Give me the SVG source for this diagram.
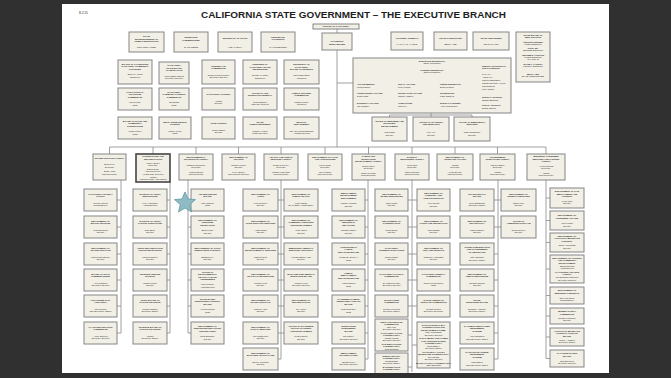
<svg xmlns="http://www.w3.org/2000/svg" width="671" height="378" viewBox="0 0 671 378">
<style>
.bg{fill:#303030}
.pg{fill:#ffffff}
.b{fill:#f2f0e6;stroke:#858585;stroke-width:1}
.k{fill:#f2f0e6;stroke:#454545;stroke-width:1.6}
.c{stroke:#959595;stroke-width:0.9;fill:none}
text{font-family:"Liberation Sans",Arial,sans-serif;fill:#1e1e1e}
.t{font-size:2.2px;text-anchor:middle}
.l{font-size:2.2px;text-anchor:start}
.h{font-weight:bold}
.star{fill:#8fbcc4;stroke:#5e98a3;stroke-width:0.8}
</style>
<rect class="bg" x="0" y="0" width="671" height="378"/>
<rect class="pg" x="62" y="4" width="547" height="369"/>
<text x="79" y="14" style="font-size:3.2px">8.2.15</text>
<text x="353.5" y="17.5" class="h" style="font-size:9px;text-anchor:middle" textLength="305" lengthAdjust="spacingAndGlyphs">CALIFORNIA STATE GOVERNMENT – THE EXECUTIVE BRANCH</text>

<g id="connectors" class="c">
<path d="M337 29V33M337 50V147M337 83H353M431 113V115M389.5 115H472M389.5 115V117M431 115V117M472 115V117"/>
<path d="M109.5 147H546M109.5 147V154M153 147V154M196 147V154M238.5 147V154M281 147V154M325 147V154M368.5 147V154M412 147V154M455 147V154M497.5 147V154M546 147V154"/>
<path d="M121 180V333M170 182V333M188 180V333M281 180V359M368 180V359M412 180V372M498 180V359M546 180V358.5"/>
<path d="M117 200H121M117 227H121M117 254H121M117 280H121M117 306H121M117 333H121"/>
<path d="M167 200H170M167 227H170M167 254H170M167 280H170M167 306H170M167 333H170"/>
<path d="M188 200H191M188 227H191M188 254H191M188 280H191M188 306H191M188 333H191"/>
<path d="M278 200H284M278 227H284M278 254H284M278 280H284M278 306H284M278 333H284M278 359H281"/>
<path d="M365 200H368M365 227H368M365 254H368M365 280H368M365 306H368M365 333H368M365 359H368"/>
<path d="M408 200H417M408 227H417M408 254H417M408 280H417M408 306H417M408 335H412M412 345H417M408 367H412"/>
<path d="M494 200H501M494 227H501M494 254H498M494 280H498M494 306H498M494 333H498M494 359H498"/>
<path d="M546 198H550M546 220.5H550M546 242.5H550M546 269H550M546 295.5H550M546 316H550M546 337H550M546 358.5H550"/>
</g>

<g id="people"><rect class="b" x="313" y="24" width="46" height="5"/><text class="t"><tspan class="h" x="336" y="27.3">PEOPLE OF CALIFORNIA</tspan></text></g>
<g id="supt"><rect class="b" x="129" y="32" width="35" height="20"/><text class="t"><tspan class="h" x="146.5" y="37">STATE</tspan><tspan class="h" x="146.5" y="39.6">SUPERINTENDENT OF</tspan><tspan class="h" x="146.5" y="42.2">PUBLIC INSTRUCTION</tspan><tspan x="146.5" y="48">TOM TORLAKSON</tspan></text></g>
<g id="ins"><rect class="b" x="174" y="32" width="34" height="20"/><text class="t"><tspan class="h" x="191" y="38">INSURANCE</tspan><tspan class="h" x="191" y="40.6">COMMISSIONER</tspan><tspan x="191" y="48">DAVE JONES</tspan></text></g>
<g id="sos"><rect class="b" x="218" y="32" width="34" height="20"/><text class="t"><tspan class="h" x="235" y="38.5">SECRETARY OF STATE</tspan><tspan x="235" y="48">ALEX PADILLA</tspan></text></g>
<g id="ltgov"><rect class="b" x="261" y="32" width="34" height="20"/><text class="t"><tspan class="h" x="278" y="37.5">LIEUTENANT</tspan><tspan class="h" x="278" y="40.1">GOVERNOR</tspan><tspan x="278" y="48">GAVIN NEWSOM</tspan></text></g>
<g id="gov"><rect class="b" x="322" y="33" width="30" height="17"/><text class="t"><tspan class="h" x="337" y="41.5">GOVERNOR</tspan><tspan class="h" x="337" y="44.5">JERRY BROWN</tspan></text></g>
<g id="ag"><rect class="b" x="391" y="32" width="32" height="18"/><text class="t"><tspan class="h" x="407" y="39">ATTORNEY GENERAL</tspan><tspan x="407" y="45">KAMALA D. HARRIS</tspan></text></g>
<g id="ctrl"><rect class="b" x="434" y="32" width="33" height="18"/><text class="t"><tspan class="h" x="450.5" y="39">STATE CONTROLLER</tspan><tspan x="450.5" y="45">BETTY YEE</tspan></text></g>
<g id="treas"><rect class="b" x="473" y="32" width="36" height="18"/><text class="t"><tspan class="h" x="491" y="39">STATE TREASURER</tspan><tspan x="491" y="45">JOHN CHIANG</tspan></text></g>
<g id="boe"><rect class="b" x="516" y="32" width="34" height="50"/><text class="t"><tspan class="h" x="533" y="35.5">STATE BOARD OF</tspan><tspan class="h" x="533" y="38">EQUALIZATION</tspan><tspan class="h" x="533" y="42.5">GEORGE RUNNER</tspan><tspan x="533" y="44.8">FIRST DISTRICT</tspan><tspan class="h" x="533" y="49">FIONA MA</tspan><tspan x="533" y="51.3">SECOND DISTRICT</tspan><tspan class="h" x="533" y="55.5">JEROME E. HORTON</tspan><tspan x="533" y="57.8">THIRD DISTRICT</tspan><tspan x="533" y="60.1">CHAIRMAN</tspan><tspan class="h" x="533" y="64.5">DIANE L. HARKEY</tspan><tspan x="533" y="66.8">FOURTH DISTRICT</tspan><tspan class="h" x="533" y="74.5">BETTY YEE</tspan><tspan x="533" y="76.8">STATE CONTROLLER</tspan></text></g>

<g id="exec"><rect class="b" x="353" y="58" width="158" height="55"/>
<text class="t"><tspan class="h" x="432" y="61.5">EXECUTIVE SECRETARY</tspan><tspan x="432" y="64">Nancy McFadden</tspan><tspan class="h" x="432" y="70.5">CABINET SECRETARY</tspan><tspan x="432" y="73">Dana Williamson</tspan></text>
<text class="l"><tspan class="h" x="357" y="85">APPOINTMENTS</tspan><tspan x="357" y="87.5">Mona Pasquil</tspan><tspan class="h" x="357" y="94">CONSTITUENT AFFAIRS</tspan><tspan x="357" y="96.5">Robin Mast</tspan><tspan class="h" x="357" y="104">EXTERNAL AFFAIRS</tspan><tspan x="357" y="106.5">Jim Gallaher</tspan></text>
<text class="l"><tspan class="h" x="398" y="85">LEGAL AFFAIRS</tspan><tspan x="398" y="87.5">Peter Krause</tspan><tspan class="h" x="398" y="94">LEGISLATIVE AFFAIRS</tspan><tspan x="398" y="96.5">Camille Wagner</tspan><tspan class="h" x="398" y="104">OPERATIONS</tspan><tspan x="398" y="106.5">John Lee</tspan></text>
<text class="l"><tspan class="h" x="440" y="85">PRESS SECRETARY</tspan><tspan x="440" y="87.5">Evan Westrup</tspan><tspan class="h" x="440" y="94">SCHEDULING</tspan><tspan x="440" y="96.5">Kathy Barbera</tspan><tspan class="h" x="440" y="104">SPECIAL COUNSEL</tspan><tspan x="440" y="106.5">Anne Gust Brown</tspan></text>
<text class="l"><tspan class="h" x="482" y="66.5">SENIOR ADVISORS TO</tspan><tspan class="h" x="482" y="69">THE GOVERNOR</tspan><tspan x="482" y="74.5">Ken Alex</tspan><tspan x="482" y="77.5">Agnes Lee</tspan><tspan x="482" y="80.5">Cliff Rechtschaffen</tspan><tspan x="482" y="83.5">Martha Guzman Aceves</tspan><tspan x="482" y="86.5">Gareth Elliott</tspan><tspan x="482" y="89.5">Lupe Garcia</tspan><tspan class="h" x="482" y="98">SPECIAL ADVISOR</tspan><tspan x="482" y="100.5">Nathan Barankin</tspan><tspan class="h" x="482" y="106">FISCAL ADVISOR</tspan><tspan x="482" y="108.5">Eraina Ortega</tspan></text>
</g>
<g id="obed"><rect class="b" x="372" y="117" width="35" height="24"/><text class="t"><tspan class="h" x="389.5" y="121.5">OFFICE OF BUSINESS AND</tspan><tspan class="h" x="389.5" y="124">ECONOMIC</tspan><tspan class="h" x="389.5" y="126.5">DEVELOPMENT</tspan><tspan x="389.5" y="133">Kish Rajan</tspan><tspan x="389.5" y="135.5">Director</tspan></text></g>
<g id="opr"><rect class="b" x="413" y="117" width="36" height="24"/><text class="t"><tspan class="h" x="431" y="122.5">OFFICE OF PLANNING</tspan><tspan class="h" x="431" y="125">AND RESEARCH</tspan><tspan x="431" y="133">Ken Alex</tspan><tspan x="431" y="135.5">Director</tspan></text></g>
<g id="oes"><rect class="b" x="454" y="117" width="36" height="24"/><text class="t"><tspan class="h" x="472" y="122.5">OFFICE OF EMERGENCY</tspan><tspan class="h" x="472" y="125">SERVICES</tspan><tspan x="472" y="133">Mark Ghilarducci</tspan><tspan x="472" y="135.5">Director</tspan></text></g>

<g id="a2"><rect class="b" x="118" y="60" width="34" height="24"/><text class="t"><tspan class="h" x="135" y="64.5">BOARD OF GOVERNORS</tspan><tspan class="h" x="135" y="67">CALIFORNIA COMMUNITY</tspan><tspan class="h" x="135" y="69.5">COLLEGES</tspan><tspan x="135" y="75">Brice W. Harris</tspan><tspan x="135" y="77.5">Chancellor</tspan></text></g>
<g id="b2"><rect class="b" x="159" y="62" width="30" height="22"/><text class="t"><tspan class="h" x="174" y="66">CALIFORNIA</tspan><tspan class="h" x="174" y="68.5">STATE BOARD</tspan><tspan class="h" x="174" y="71">OF EDUCATION</tspan><tspan x="174" y="76.5">Karen Stapf Walters</tspan><tspan x="174" y="79">Executive Director</tspan></text></g>
<g id="a3"><rect class="b" x="118" y="88" width="34" height="22"/><text class="t"><tspan class="h" x="135" y="92.5">FAIR POLITICAL</tspan><tspan class="h" x="135" y="95">PRACTICES</tspan><tspan class="h" x="135" y="97.5">COMMISSION</tspan><tspan x="135" y="103">Jodi Remke</tspan><tspan x="135" y="105.5">Chair</tspan></text></g>
<g id="b3"><rect class="b" x="159" y="88" width="30" height="22"/><text class="t"><tspan class="h" x="174" y="92.5">CALIFORNIA</tspan><tspan class="h" x="174" y="95">GAMBLING CONTROL</tspan><tspan class="h" x="174" y="97.5">COMMISSION</tspan><tspan x="174" y="103">Jim Evans</tspan><tspan x="174" y="105.5">Chair</tspan></text></g>
<g id="a4"><rect class="b" x="118" y="117" width="34" height="22"/><text class="t"><tspan class="h" x="135" y="121.5">BOARD OF STATE AND</tspan><tspan class="h" x="135" y="124">COMMUNITY</tspan><tspan class="h" x="135" y="126.5">CORRECTIONS</tspan><tspan x="135" y="132">Linda Penner</tspan><tspan x="135" y="134.5">Chair</tspan></text></g>
<g id="b4"><rect class="b" x="159" y="117" width="32" height="22"/><text class="t"><tspan class="h" x="175" y="122.5">DELTA STEWARDSHIP</tspan><tspan class="h" x="175" y="125">COUNCIL</tspan><tspan x="175" y="131.5">Randy Fiorini</tspan><tspan x="175" y="134">Chair</tspan></text></g>
<g id="c2"><rect class="b" x="202" y="60" width="33" height="24"/><text class="t"><tspan class="h" x="218.5" y="66.5">STUDENT AID</tspan><tspan class="h" x="218.5" y="69">COMMISSION</tspan><tspan x="218.5" y="75.5">Diana Fuentes-Michel</tspan><tspan x="218.5" y="78">Executive Director</tspan></text></g>
<g id="d2"><rect class="b" x="243" y="60" width="34" height="24"/><text class="t"><tspan class="h" x="260" y="65">TRUSTEES OF</tspan><tspan class="h" x="260" y="67.5">CALIFORNIA STATE</tspan><tspan class="h" x="260" y="70">UNIVERSITIES</tspan><tspan x="260" y="76">Timothy P. White</tspan><tspan x="260" y="78.5">Chancellor</tspan></text></g>
<g id="e2"><rect class="b" x="284" y="60" width="35" height="24"/><text class="t"><tspan class="h" x="301.5" y="65">UNIVERSITY OF</tspan><tspan class="h" x="301.5" y="67.5">CALIFORNIA</tspan><tspan class="h" x="301.5" y="70">BOARD OF REGENTS</tspan><tspan x="301.5" y="76">Janet Napolitano</tspan><tspan x="301.5" y="78.5">President</tspan></text></g>
<g id="c3"><rect class="b" x="202" y="88" width="33" height="22"/><text class="t"><tspan class="h" x="218.5" y="95">CALIFORNIA LOTTERY</tspan><tspan x="218.5" y="101.5">Vacant</tspan><tspan x="218.5" y="104">Director</tspan></text></g>
<g id="d3"><rect class="b" x="243" y="88" width="34" height="22"/><text class="t"><tspan class="h" x="260" y="93.5">OFFICE OF THE</tspan><tspan class="h" x="260" y="96">INSPECTOR GENERAL</tspan><tspan x="260" y="102.5">Robert Barton</tspan><tspan x="260" y="105">Inspector General</tspan></text></g>
<g id="e3"><rect class="b" x="284" y="88" width="35" height="22"/><text class="t"><tspan class="h" x="301.5" y="93.5">PUBLIC UTILITIES</tspan><tspan class="h" x="301.5" y="96">COMMISSION</tspan><tspan x="301.5" y="102.5">Michael Picker</tspan><tspan x="301.5" y="105">President</tspan></text></g>
<g id="c4"><rect class="b" x="202" y="117" width="33" height="22"/><text class="t"><tspan class="h" x="218.5" y="124">ARTS COUNCIL</tspan><tspan x="218.5" y="130.5">Craig Watson</tspan><tspan x="218.5" y="133">Director</tspan></text></g>
<g id="d4"><rect class="b" x="243" y="117" width="34" height="22"/><text class="t"><tspan class="h" x="260" y="122.5">STATE</tspan><tspan class="h" x="260" y="125">PUBLIC DEFENDER</tspan><tspan x="260" y="131.5">Michael Hersek</tspan><tspan x="260" y="134">Public Defender</tspan></text></g>
<g id="e4"><rect class="b" x="284" y="117" width="35" height="22"/><text class="t"><tspan class="h" x="301.5" y="122.5">MILITARY</tspan><tspan class="h" x="301.5" y="125">DEPARTMENT</tspan><tspan x="301.5" y="131.5">Maj. Gen. David Baldwin</tspan><tspan x="301.5" y="134">Adjutant General</tspan></text></g>

<g id="ag-trans"><rect class="b" x="93" y="154" width="33" height="26"/><text class="t"><tspan class="h" x="109.5" y="158.5">TRANSPORTATION AGENCY</tspan><tspan x="109.5" y="165">Brian Kelly</tspan><tspan x="109.5" y="167.5">Secretary</tspan><tspan x="109.5" y="172">Brian Annis</tspan><tspan x="109.5" y="174.5">Undersecretary</tspan></text></g>
<g id="ag-cdcr"><rect class="k" x="136" y="154" width="34" height="28"/><text class="t"><tspan class="h" x="153" y="157.3">CORRECTIONS AND</tspan><tspan class="h" x="153" y="159.8">REHABILITATION</tspan><tspan x="153" y="163.5">Jeffrey Beard</tspan><tspan x="153" y="166">Secretary</tspan><tspan x="153" y="169.5">Diana Toche</tspan><tspan x="153" y="172">Undersecretary</tspan><tspan x="153" y="174.5">Health Care Services</tspan><tspan x="153" y="177.5">Vacant</tspan><tspan x="153" y="180">Undersecretary, Operations</tspan></text></g>
<g id="ag-epa"><rect class="b" x="179" y="154" width="34" height="26"/><text class="t"><tspan class="h" x="196" y="157.5">ENVIRONMENTAL</tspan><tspan class="h" x="196" y="160">PROTECTION AGENCY</tspan><tspan x="196" y="165.5">Matthew Rodriquez</tspan><tspan x="196" y="168">Secretary</tspan><tspan x="196" y="172.5">Gordon Burns</tspan><tspan x="196" y="175">Undersecretary</tspan></text></g>
<g id="ag-fin"><rect class="b" x="222" y="154" width="33" height="26"/><text class="t"><tspan class="h" x="238.5" y="157.5">DEPARTMENT OF</tspan><tspan class="h" x="238.5" y="160">FINANCE</tspan><tspan x="238.5" y="165.5">Michael Cohen</tspan><tspan x="238.5" y="168">Director</tspan><tspan x="238.5" y="172.5">Keely Bosler</tspan><tspan x="238.5" y="175">Chief Deputy Director</tspan></text></g>
<g id="ag-hhs"><rect class="b" x="264" y="154" width="34" height="26"/><text class="t"><tspan class="h" x="281" y="157.5">HEALTH AND HUMAN</tspan><tspan class="h" x="281" y="160">SERVICES AGENCY</tspan><tspan x="281" y="165.5">Diana S. Dooley</tspan><tspan x="281" y="168">Secretary</tspan><tspan x="281" y="172.5">Michael Wilkening</tspan><tspan x="281" y="175">Undersecretary</tspan></text></g>
<g id="ag-cdfa"><rect class="b" x="308" y="154" width="34" height="26"/><text class="t"><tspan class="h" x="325" y="157.5">DEPARTMENT OF FOOD</tspan><tspan class="h" x="325" y="160">AND AGRICULTURE</tspan><tspan x="325" y="165.5">Karen Ross</tspan><tspan x="325" y="168">Secretary</tspan><tspan x="325" y="172.5">Jim Houston</tspan><tspan x="325" y="175">Undersecretary</tspan></text></g>
<g id="ag-labor"><rect class="b" x="352" y="154" width="33" height="26"/><text class="t"><tspan class="h" x="368.5" y="157">LABOR AND</tspan><tspan class="h" x="368.5" y="159.5">WORKFORCE</tspan><tspan class="h" x="368.5" y="162">DEVELOPMENT AGENCY</tspan><tspan x="368.5" y="166.5">David Lanier</tspan><tspan x="368.5" y="169">Secretary</tspan><tspan x="368.5" y="173.5">Daniel Rounds</tspan><tspan x="368.5" y="176">Undersecretary</tspan></text></g>
<g id="ag-nr"><rect class="b" x="395" y="154" width="34" height="26"/><text class="t"><tspan class="h" x="412" y="157.5">NATURAL</tspan><tspan class="h" x="412" y="160">RESOURCES AGENCY</tspan><tspan x="412" y="165.5">John Laird</tspan><tspan x="412" y="168">Secretary</tspan><tspan x="412" y="172.5">Janelle Beland</tspan><tspan x="412" y="175">Undersecretary</tspan></text></g>
<g id="ag-va"><rect class="b" x="437" y="154" width="36" height="26"/><text class="t"><tspan class="h" x="455" y="157.5">DEPARTMENT OF</tspan><tspan class="h" x="455" y="160">VETERANS AFFAIRS</tspan><tspan x="455" y="165.5">Vacant</tspan><tspan x="455" y="168">Secretary</tspan><tspan x="455" y="172.5">Keith Boylan</tspan><tspan x="455" y="175">Undersecretary</tspan></text></g>
<g id="ag-govops"><rect class="b" x="480" y="154" width="35" height="26"/><text class="t"><tspan class="h" x="497.5" y="157.5">GOVERNMENT</tspan><tspan class="h" x="497.5" y="160">OPERATIONS AGENCY</tspan><tspan x="497.5" y="165.5">Marybel Batjer</tspan><tspan x="497.5" y="168">Secretary</tspan><tspan x="497.5" y="172.5">Vacant</tspan><tspan x="497.5" y="175">Undersecretary</tspan></text></g>
<g id="ag-bcsh"><rect class="b" x="527" y="154" width="38" height="26"/><text class="t"><tspan class="h" x="546" y="157">BUSINESS, CONSUMER</tspan><tspan class="h" x="546" y="159.5">SERVICES AND HOUSING</tspan><tspan class="h" x="546" y="162">AGENCY</tspan><tspan x="546" y="166.5">Alexis Podesta</tspan><tspan x="546" y="169">Secretary</tspan><tspan x="546" y="173.5">Vacant</tspan><tspan x="546" y="176">Undersecretary</tspan></text></g>

<g id="tr1"><rect class="b" x="84" y="189" width="33" height="22"/><text class="t"><tspan class="h" x="100.5" y="194.5">CALIFORNIA HIGHWAY</tspan><tspan class="h" x="100.5" y="197.1">PATROL</tspan><tspan x="100.5" y="203.5">Joseph Farrow</tspan><tspan x="100.5" y="206.1">Commissioner</tspan></text></g>
<g id="tr2"><rect class="b" x="84" y="216" width="33" height="22"/><text class="t"><tspan class="h" x="100.5" y="221.5">DEPARTMENT OF</tspan><tspan class="h" x="100.5" y="224.1">MOTOR VEHICLES</tspan><tspan x="100.5" y="230.5">Jean Shiomoto</tspan><tspan x="100.5" y="233.1">Director</tspan></text></g>
<g id="tr3"><rect class="b" x="84" y="243" width="33" height="22"/><text class="t"><tspan class="h" x="100.5" y="248.5">DEPARTMENT OF</tspan><tspan class="h" x="100.5" y="251.1">TRANSPORTATION</tspan><tspan x="100.5" y="257.5">Malcolm Dougherty</tspan><tspan x="100.5" y="260.1">Director</tspan></text></g>
<g id="tr4"><rect class="b" x="84" y="269" width="33" height="22"/><text class="t"><tspan class="h" x="100.5" y="274.5">BOARD OF PILOT</tspan><tspan class="h" x="100.5" y="277.1">COMMISSIONERS</tspan><tspan x="100.5" y="283.5">Allen Garfinkle</tspan><tspan x="100.5" y="286.1">Executive Director</tspan></text></g>
<g id="tr5"><rect class="b" x="84" y="295" width="33" height="22"/><text class="t"><tspan class="h" x="100.5" y="300.5">HIGH-SPEED RAIL</tspan><tspan class="h" x="100.5" y="303.1">AUTHORITY</tspan><tspan x="100.5" y="309.5">Jeff Morales</tspan><tspan x="100.5" y="312.1">Chief Executive Officer</tspan></text></g>
<g id="tr6"><rect class="b" x="84" y="322" width="33" height="22"/><text class="t"><tspan class="h" x="100.5" y="327.5">CA TRANSPORTATION</tspan><tspan class="h" x="100.5" y="330.1">COMMISSION</tspan><tspan x="100.5" y="336.5">Andre Boutros</tspan><tspan x="100.5" y="339.1">Executive Director</tspan></text></g>

<g id="cd1"><rect class="b" x="133" y="189" width="34" height="22"/><text class="t"><tspan class="h" x="150" y="194.5">DIVISION OF ADULT</tspan><tspan class="h" x="150" y="197.1">INSTITUTIONS</tspan><tspan x="150" y="203.5">Kelly Harrington</tspan><tspan x="150" y="206.1">Acting Director</tspan></text></g>
<g id="cd2"><rect class="b" x="133" y="216" width="34" height="22"/><text class="t"><tspan class="h" x="150" y="221.5">DIVISION OF ADULT</tspan><tspan class="h" x="150" y="224.1">PAROLE OPERATIONS</tspan><tspan x="150" y="230.5">Dan Stone</tspan><tspan x="150" y="233.1">Director</tspan></text></g>
<g id="cd3"><rect class="b" x="133" y="243" width="34" height="22"/><text class="t"><tspan class="h" x="150" y="248.5">ADULT REHABILITATIVE</tspan><tspan class="h" x="150" y="251.1">PROGRAMS DIVISION</tspan><tspan x="150" y="257.5">Millicent Tidwell</tspan><tspan x="150" y="260.1">Director</tspan></text></g>
<g id="cd4"><rect class="b" x="133" y="269" width="34" height="22"/><text class="t"><tspan class="h" x="150" y="274.5">JUVENILE JUSTICE</tspan><tspan class="h" x="150" y="277.1">DIVISION</tspan><tspan x="150" y="283.5">Michael Minor</tspan><tspan x="150" y="286.1">Director</tspan></text></g>
<g id="cd5"><rect class="b" x="133" y="295" width="34" height="22"/><text class="t"><tspan class="h" x="150" y="300.5">ADULT BOARD OF</tspan><tspan class="h" x="150" y="303.1">PAROLE HEARINGS</tspan><tspan x="150" y="309.5">Jennifer Shaffer</tspan><tspan x="150" y="312.1">Executive Officer</tspan></text></g>
<g id="cd6"><rect class="b" x="133" y="322" width="34" height="22"/><text class="t"><tspan class="h" x="150" y="327.5">JUVENILE BOARD OF</tspan><tspan class="h" x="150" y="330.1">PAROLE HEARINGS</tspan><tspan x="150" y="336.5">Vacant</tspan><tspan x="150" y="339.1">Executive Officer</tspan></text></g>

<g id="ep1"><rect class="b" x="191" y="189" width="33" height="22"/><text class="t"><tspan class="h" x="207.5" y="194.5">AIR RESOURCES</tspan><tspan class="h" x="207.5" y="197.1">BOARD</tspan><tspan x="207.5" y="203.5">Mary Nichols</tspan><tspan x="207.5" y="206.1">Chair</tspan></text></g>
<g id="ep2"><rect class="b" x="191" y="216" width="33" height="22"/><text class="t"><tspan class="h" x="207.5" y="220.5">DEPARTMENT OF</tspan><tspan class="h" x="207.5" y="223.1">PESTICIDE</tspan><tspan class="h" x="207.5" y="225.7">REGULATION</tspan><tspan x="207.5" y="231">Brian Leahy</tspan><tspan x="207.5" y="233.6">Director</tspan></text></g>
<g id="ep3"><rect class="b" x="191" y="243" width="33" height="22"/><text class="t"><tspan class="h" x="207.5" y="248.5">DEPARTMENT OF TOXIC</tspan><tspan class="h" x="207.5" y="251.1">SUBSTANCES CONTROL</tspan><tspan x="207.5" y="257.5">Barbara Lee</tspan><tspan x="207.5" y="260.1">Director</tspan></text></g>
<g id="ep4"><rect class="b" x="191" y="269" width="33" height="22"/><text class="t"><tspan class="h" x="207.5" y="272.8">OFFICE OF</tspan><tspan class="h" x="207.5" y="275.3">ENVIRONMENTAL</tspan><tspan class="h" x="207.5" y="277.8">HEALTH HAZARD</tspan><tspan class="h" x="207.5" y="280.3">ASSESSMENT</tspan><tspan x="207.5" y="285">Lauren Zeise</tspan><tspan x="207.5" y="287.5">Acting Director</tspan></text></g>
<g id="ep5"><rect class="b" x="191" y="295" width="33" height="22"/><text class="t"><tspan class="h" x="207.5" y="299.5">STATE WATER</tspan><tspan class="h" x="207.5" y="302.1">RESOURCES CONTROL</tspan><tspan class="h" x="207.5" y="304.7">BOARD</tspan><tspan x="207.5" y="310">Felicia Marcus</tspan><tspan x="207.5" y="312.6">Chair</tspan></text></g>
<g id="ep6"><rect class="b" x="191" y="322" width="33" height="22"/><text class="t"><tspan class="h" x="207.5" y="326.5">DEPARTMENT OF</tspan><tspan class="h" x="207.5" y="329.1">RESOURCES RECYCLING</tspan><tspan class="h" x="207.5" y="331.7">AND RECOVERY</tspan><tspan x="207.5" y="337">Scott Smithline</tspan><tspan x="207.5" y="339.6">Director</tspan></text></g>

<g id="hl1"><rect class="b" x="243" y="189" width="35" height="22"/><text class="t"><tspan class="h" x="260.5" y="194.5">DEPARTMENT OF</tspan><tspan class="h" x="260.5" y="197.1">AGING</tspan><tspan x="260.5" y="203.5">Lora Connolly</tspan><tspan x="260.5" y="206.1">Director</tspan></text></g>
<g id="hl2"><rect class="b" x="243" y="216" width="35" height="22"/><text class="t"><tspan class="h" x="260.5" y="221.5">DEPARTMENT OF</tspan><tspan class="h" x="260.5" y="224.1">CHILD SUPPORT SERVICES</tspan><tspan x="260.5" y="230.5">Alisha Griffin</tspan><tspan x="260.5" y="233.1">Director</tspan></text></g>
<g id="hl3"><rect class="b" x="243" y="243" width="35" height="22"/><text class="t"><tspan class="h" x="260.5" y="248.5">DEPARTMENT OF</tspan><tspan class="h" x="260.5" y="251.1">DEVELOPMENTAL SERVICES</tspan><tspan x="260.5" y="257.5">Santi Rogers</tspan><tspan x="260.5" y="260.1">Director</tspan></text></g>
<g id="hl4"><rect class="b" x="243" y="269" width="35" height="22"/><text class="t"><tspan class="h" x="260.5" y="274.5">DEPARTMENT OF</tspan><tspan class="h" x="260.5" y="277.1">HEALTH CARE SERVICES</tspan><tspan x="260.5" y="283.5">Jennifer Kent</tspan><tspan x="260.5" y="286.1">Director</tspan></text></g>
<g id="hl5"><rect class="b" x="243" y="295" width="35" height="22"/><text class="t"><tspan class="h" x="260.5" y="300.5">DEPARTMENT OF</tspan><tspan class="h" x="260.5" y="303.1">STATE HOSPITALS</tspan><tspan x="260.5" y="309.5">Pamela Ahlin</tspan><tspan x="260.5" y="312.1">Director</tspan></text></g>
<g id="hl6"><rect class="b" x="243" y="322" width="35" height="22"/><text class="t"><tspan class="h" x="260.5" y="327.5">DEPARTMENT OF</tspan><tspan class="h" x="260.5" y="330.1">SOCIAL SERVICES</tspan><tspan x="260.5" y="336.5">Will Lightbourne</tspan><tspan x="260.5" y="339.1">Director</tspan></text></g>
<g id="hl7"><rect class="b" x="243" y="348" width="35" height="22"/><text class="t"><tspan class="h" x="260.5" y="353.5">DEPARTMENT OF</tspan><tspan class="h" x="260.5" y="356.1">MANAGED HEALTH CARE</tspan><tspan x="260.5" y="362.5">Shelley Rouillard</tspan><tspan x="260.5" y="365.1">Director</tspan></text></g>
<g id="hr1"><rect class="b" x="284" y="189" width="34" height="22"/><text class="t"><tspan class="h" x="301" y="194.5">DEPARTMENT OF</tspan><tspan class="h" x="301" y="197.1">PUBLIC HEALTH</tspan><tspan x="301" y="203.5">Karen Smith</tspan><tspan x="301" y="206.1">Dir. &amp; State Health Officer</tspan></text></g>
<g id="hr2"><rect class="b" x="284" y="216" width="34" height="22"/><text class="t"><tspan class="h" x="301" y="220.5">DEPARTMENT OF</tspan><tspan class="h" x="301" y="223.1">COMMUNITY SERVICES</tspan><tspan class="h" x="301" y="225.7">AND DEVELOPMENT</tspan><tspan x="301" y="231">Linné Stout</tspan><tspan x="301" y="233.6">Director</tspan></text></g>
<g id="hr3"><rect class="b" x="284" y="243" width="34" height="22"/><text class="t"><tspan class="h" x="301" y="248.5">EMERGENCY MEDICAL</tspan><tspan class="h" x="301" y="251.1">SERVICES AUTHORITY</tspan><tspan x="301" y="257.5">Howard Backer, MD</tspan><tspan x="301" y="260.1">Director</tspan></text></g>
<g id="hr4"><rect class="b" x="284" y="269" width="34" height="22"/><text class="t"><tspan class="h" x="301" y="274.5">MANAGED RISK MEDICAL</tspan><tspan class="h" x="301" y="277.1">INSURANCE BOARD</tspan><tspan x="301" y="283.5">Jennifer Kent</tspan><tspan x="301" y="286.1">Executive Director</tspan></text></g>
<g id="hr5"><rect class="b" x="284" y="295" width="34" height="22"/><text class="t"><tspan class="h" x="301" y="300.5">DEPARTMENT OF</tspan><tspan class="h" x="301" y="303.1">REHABILITATION</tspan><tspan x="301" y="309.5">Joe Xavier</tspan><tspan x="301" y="312.1">Director</tspan></text></g>
<g id="hr6"><rect class="b" x="284" y="322" width="34" height="22"/><text class="t"><tspan class="h" x="301" y="326.5">OFFICE OF STATEWIDE</tspan><tspan class="h" x="301" y="329.1">HEALTH PLANNING</tspan><tspan class="h" x="301" y="331.7">AND DEVELOPMENT</tspan><tspan x="301" y="337">Robert David</tspan><tspan x="301" y="339.6">Director</tspan></text></g>

<g id="lb1"><rect class="b" x="332" y="189" width="33" height="22"/><text class="t"><tspan class="h" x="348.5" y="193.5">EMPLOYMENT</tspan><tspan class="h" x="348.5" y="196.1">DEVELOPMENT</tspan><tspan class="h" x="348.5" y="198.7">DEPARTMENT</tspan><tspan x="348.5" y="204">Patrick Henning</tspan><tspan x="348.5" y="206.6">Director</tspan></text></g>
<g id="lb2"><rect class="b" x="332" y="216" width="33" height="22"/><text class="t"><tspan class="h" x="348.5" y="220.5">DEPARTMENT OF</tspan><tspan class="h" x="348.5" y="223.1">INDUSTRIAL</tspan><tspan class="h" x="348.5" y="225.7">RELATIONS</tspan><tspan x="348.5" y="231">Christine Baker</tspan><tspan x="348.5" y="233.6">Director</tspan></text></g>
<g id="lb3"><rect class="b" x="332" y="243" width="33" height="22"/><text class="t"><tspan class="h" x="348.5" y="247.5">AGRICULTURAL</tspan><tspan class="h" x="348.5" y="250.1">LABOR</tspan><tspan class="h" x="348.5" y="252.7">RELATIONS BOARD</tspan><tspan x="348.5" y="258">William B. Gould IV</tspan><tspan x="348.5" y="260.6">Chair</tspan></text></g>
<g id="lb4"><rect class="b" x="332" y="269" width="33" height="22"/><text class="t"><tspan class="h" x="348.5" y="273.5">PUBLIC</tspan><tspan class="h" x="348.5" y="276.1">EMPLOYMENT</tspan><tspan class="h" x="348.5" y="278.7">RELATIONS BOARD</tspan><tspan x="348.5" y="284">Anita Martinez</tspan><tspan x="348.5" y="286.6">Chair</tspan></text></g>
<g id="lb5"><rect class="b" x="332" y="295" width="33" height="22"/><text class="t"><tspan class="h" x="348.5" y="299.5">CA UNEMPLOYMENT</tspan><tspan class="h" x="348.5" y="302.1">INSURANCE APPEALS</tspan><tspan class="h" x="348.5" y="304.7">BOARD</tspan><tspan x="348.5" y="310">Robert Dresser</tspan><tspan x="348.5" y="312.6">Chair</tspan></text></g>
<g id="lb6"><rect class="b" x="332" y="322" width="33" height="22"/><text class="t"><tspan class="h" x="348.5" y="326.5">WORKFORCE</tspan><tspan class="h" x="348.5" y="329.1">INVESTMENT</tspan><tspan class="h" x="348.5" y="331.7">BOARD</tspan><tspan x="348.5" y="337">Tim Rainey</tspan><tspan x="348.5" y="339.6">Executive Director</tspan></text></g>
<g id="lb7"><rect class="b" x="332" y="348" width="33" height="22"/><text class="t"><tspan class="h" x="348.5" y="353.5">EMPLOYMENT</tspan><tspan class="h" x="348.5" y="356.1">TRAINING PANEL</tspan><tspan x="348.5" y="362.5">Stewart Knox</tspan><tspan x="348.5" y="365.1">Executive Director</tspan></text></g>

<g id="nl1"><rect class="b" x="375" y="189" width="33" height="22"/><text class="t"><tspan class="h" x="391.5" y="194.5">DEPARTMENT OF</tspan><tspan class="h" x="391.5" y="197.1">WATER RESOURCES</tspan><tspan x="391.5" y="203.5">Mark Cowin</tspan><tspan x="391.5" y="206.1">Director</tspan></text></g>
<g id="nl2"><rect class="b" x="375" y="216" width="33" height="22"/><text class="t"><tspan class="h" x="391.5" y="221.5">DEPARTMENT OF</tspan><tspan class="h" x="391.5" y="224.1">CONSERVATION</tspan><tspan x="391.5" y="230.5">David Bunn</tspan><tspan x="391.5" y="233.1">Director</tspan></text></g>
<g id="nl3"><rect class="b" x="375" y="243" width="33" height="22"/><text class="t"><tspan class="h" x="391.5" y="248.5">CALIFORNIA</tspan><tspan class="h" x="391.5" y="251.1">CONSERVATION CORPS</tspan><tspan x="391.5" y="257.5">David Muraki</tspan><tspan x="391.5" y="260.1">Director</tspan></text></g>
<g id="nl4"><rect class="b" x="375" y="269" width="33" height="22"/><text class="t"><tspan class="h" x="391.5" y="274.5">CALIFORNIA COASTAL</tspan><tspan class="h" x="391.5" y="277.1">COMMISSION</tspan><tspan x="391.5" y="283.5">Dr. Charles Lester</tspan><tspan x="391.5" y="286.1">Executive Director</tspan></text></g>
<g id="nl5"><rect class="b" x="375" y="295" width="33" height="22"/><text class="t"><tspan class="h" x="391.5" y="300.5">STATE LANDS</tspan><tspan class="h" x="391.5" y="303.1">COMMISSION</tspan><tspan x="391.5" y="309.5">Jennifer Lucchesi</tspan><tspan x="391.5" y="312.1">Executive Officer</tspan></text></g>
<g id="nl6"><rect class="b" x="375" y="319" width="33" height="32"/><text class="t"><tspan class="h" x="391.5" y="322.5">DELTA PROTECTION</tspan><tspan class="h" x="391.5" y="325">COMMISSION</tspan><tspan x="391.5" y="327.5">Erik Vink</tspan><tspan x="391.5" y="330">Executive Director</tspan><tspan class="h" x="391.5" y="333.5">CALIFORNIA TAHOE</tspan><tspan class="h" x="391.5" y="336">CONSERVANCY</tspan><tspan x="391.5" y="338.5">Patrick Wright</tspan><tspan x="391.5" y="341">Executive Director</tspan><tspan class="h" x="391.5" y="344.5">SAN DIEGO RIVER</tspan><tspan class="h" x="391.5" y="347">CONSERVANCY</tspan><tspan x="391.5" y="349.5">Julia Richards</tspan></text></g>
<g id="nl7"><rect class="b" x="375" y="353" width="33" height="28"/><text class="t"><tspan class="h" x="391.5" y="356.5">SIERRA NEVADA</tspan><tspan class="h" x="391.5" y="359">CONSERVANCY</tspan><tspan x="391.5" y="361.5">Jim Branham</tspan><tspan x="391.5" y="364">Executive Officer</tspan><tspan class="h" x="391.5" y="367.5">BALDWIN HILLS</tspan><tspan class="h" x="391.5" y="370">CONSERVANCY</tspan></text></g>
<g id="nr1"><rect class="b" x="417" y="189" width="33" height="22"/><text class="t"><tspan class="h" x="433.5" y="193.5">DEPARTMENT OF</tspan><tspan class="h" x="433.5" y="196.1">FORESTRY AND</tspan><tspan class="h" x="433.5" y="198.7">FIRE PROTECTION</tspan><tspan x="433.5" y="204">Ken Pimlott</tspan><tspan x="433.5" y="206.6">Director</tspan></text></g>
<g id="nr2"><rect class="b" x="417" y="216" width="33" height="22"/><text class="t"><tspan class="h" x="433.5" y="221.5">DEPARTMENT OF</tspan><tspan class="h" x="433.5" y="224.1">PARKS AND RECREATION</tspan><tspan x="433.5" y="230.5">Lisa Mangat</tspan><tspan x="433.5" y="233.1">Director</tspan></text></g>
<g id="nr3"><rect class="b" x="417" y="243" width="33" height="22"/><text class="t"><tspan class="h" x="433.5" y="248.5">DEPARTMENT OF</tspan><tspan class="h" x="433.5" y="251.1">FISH AND WILDLIFE</tspan><tspan x="433.5" y="257.5">Charlton H. Bonham</tspan><tspan x="433.5" y="260.1">Director</tspan></text></g>
<g id="nr4"><rect class="b" x="417" y="269" width="33" height="22"/><text class="t"><tspan class="h" x="433.5" y="274.5">CALIFORNIA ENERGY</tspan><tspan class="h" x="433.5" y="277.1">COMMISSION</tspan><tspan x="433.5" y="283.5">Robert Weisenmiller</tspan><tspan x="433.5" y="286.1">Chair</tspan></text></g>
<g id="nr5"><rect class="b" x="417" y="295" width="33" height="22"/><text class="t"><tspan class="h" x="433.5" y="300.5">NATIVE AMERICAN</tspan><tspan class="h" x="433.5" y="303.1">HERITAGE COMMISSION</tspan><tspan x="433.5" y="309.5">Cynthia Gomez</tspan><tspan x="433.5" y="312.1">Executive Secretary</tspan></text></g>
<g id="nr6"><rect class="b" x="417" y="322" width="33" height="46"/><text class="t"><tspan class="h" x="433.5" y="325.5">SAN FRANCISCO BAY</tspan><tspan class="h" x="433.5" y="328">CONSERVATION AND</tspan><tspan class="h" x="433.5" y="330.5">DEVELOPMENT COMM.</tspan><tspan x="433.5" y="333">Larry Goldzband</tspan><tspan x="433.5" y="335.5">Executive Director</tspan><tspan class="h" x="433.5" y="339">SAN GABRIEL AND LOWER</tspan><tspan class="h" x="433.5" y="341.5">LOS ANGELES RIVERS</tspan><tspan class="h" x="433.5" y="344">CONSERVANCY</tspan><tspan x="433.5" y="346.5">Mark Stanley</tspan><tspan x="433.5" y="349">Executive Officer</tspan><tspan class="h" x="433.5" y="352.5">COACHELLA VALLEY</tspan><tspan class="h" x="433.5" y="355">MOUNTAINS CONSERVANCY</tspan><tspan x="433.5" y="357.5">Jim Karpiak</tspan><tspan x="433.5" y="360">Executive Director</tspan><tspan class="h" x="433.5" y="363.5">STATE COASTAL CONSERVANCY</tspan><tspan x="433.5" y="366">Sam Schuchat</tspan></text></g>

<g id="gl1"><rect class="b" x="460" y="189" width="34" height="22"/><text class="t"><tspan class="h" x="477" y="194.5">FRANCHISE TAX</tspan><tspan class="h" x="477" y="197.1">BOARD</tspan><tspan x="477" y="203.5">Selvi Stanislaus</tspan><tspan x="477" y="206.1">Executive Officer</tspan></text></g>
<g id="gl2"><rect class="b" x="460" y="216" width="34" height="22"/><text class="t"><tspan class="h" x="477" y="221.5">DEPARTMENT OF</tspan><tspan class="h" x="477" y="224.1">TECHNOLOGY</tspan><tspan x="477" y="230.5">Carlos Ramos</tspan><tspan x="477" y="233.1">Director</tspan></text></g>
<g id="gl3"><rect class="b" x="460" y="243" width="34" height="22"/><text class="t"><tspan class="h" x="477" y="247.5">VICTIM COMPENSATION</tspan><tspan class="h" x="477" y="250.1">AND GOVERNMENT</tspan><tspan class="h" x="477" y="252.7">CLAIMS BOARD</tspan><tspan x="477" y="258">Julie Nauman</tspan><tspan x="477" y="260.6">Executive Officer</tspan></text></g>
<g id="gl4"><rect class="b" x="460" y="269" width="34" height="22"/><text class="t"><tspan class="h" x="477" y="274.5">DEPARTMENT OF</tspan><tspan class="h" x="477" y="277.1">HUMAN RESOURCES</tspan><tspan x="477" y="283.5">Richard Gillihan</tspan><tspan x="477" y="286.1">Director</tspan></text></g>
<g id="gl5"><rect class="b" x="460" y="295" width="34" height="22"/><text class="t"><tspan class="h" x="477" y="300.5">STATE</tspan><tspan class="h" x="477" y="303.1">PERSONNEL BOARD</tspan><tspan x="477" y="309.5">Suzanne Ambrose</tspan><tspan x="477" y="312.1">Executive Officer</tspan></text></g>
<g id="gl6"><rect class="b" x="460" y="322" width="34" height="22"/><text class="t"><tspan class="h" x="477" y="326.5">CA PUBLIC EMPLOYEES'</tspan><tspan class="h" x="477" y="329.1">RETIREMENT</tspan><tspan class="h" x="477" y="331.7">SYSTEM</tspan><tspan x="477" y="337">Anne Stausboll</tspan><tspan x="477" y="339.6">Chief Executive Officer</tspan></text></g>
<g id="gl7"><rect class="b" x="460" y="348" width="34" height="22"/><text class="t"><tspan class="h" x="477" y="352.5">CA STATE TEACHERS'</tspan><tspan class="h" x="477" y="355.1">RETIREMENT</tspan><tspan class="h" x="477" y="357.7">SYSTEM</tspan><tspan x="477" y="363">Jack Ehnes</tspan><tspan x="477" y="365.6">Chief Executive Officer</tspan></text></g>
<g id="gr1"><rect class="b" x="501" y="189" width="35" height="22"/><text class="t"><tspan class="h" x="518.5" y="194.5">DEPARTMENT OF</tspan><tspan class="h" x="518.5" y="197.1">GENERAL SERVICES</tspan><tspan x="518.5" y="203.5">Daniel Kim</tspan><tspan x="518.5" y="206.1">Director</tspan></text></g>
<g id="gr2"><rect class="b" x="501" y="216" width="35" height="22"/><text class="t"><tspan class="h" x="518.5" y="221.5">OFFICE OF</tspan><tspan class="h" x="518.5" y="224.1">ADMINISTRATIVE LAW</tspan><tspan x="518.5" y="230.5">Debra Cornez</tspan><tspan x="518.5" y="233.1">Director</tspan></text></g>

<g id="bz1"><rect class="b" x="550" y="188" width="34" height="20"/><text class="t"><tspan class="h" x="567" y="192">DEPARTMENT OF FAIR</tspan><tspan class="h" x="567" y="194.5">EMPLOYMENT AND</tspan><tspan class="h" x="567" y="197">HOUSING</tspan><tspan x="567" y="201.5">Kevin Kish</tspan><tspan x="567" y="204">Director</tspan></text></g>
<g id="bz2"><rect class="b" x="550" y="211" width="34" height="19"/><text class="t"><tspan class="h" x="567" y="216">DEPARTMENT OF</tspan><tspan class="h" x="567" y="218.5">CONSUMER AFFAIRS</tspan><tspan x="567" y="224">Awet Kidane</tspan><tspan x="567" y="226.5">Director</tspan></text></g>
<g id="bz3"><rect class="b" x="550" y="233" width="34" height="19"/><text class="t"><tspan class="h" x="567" y="236.5">DEPARTMENT OF</tspan><tspan class="h" x="567" y="239">ALCOHOLIC BEVERAGE</tspan><tspan class="h" x="567" y="241.5">CONTROL</tspan><tspan x="567" y="246">Jacob Appelsmith</tspan><tspan x="567" y="248.5">Director</tspan></text></g>
<g id="bz4"><rect class="b" x="550" y="255" width="34" height="28"/><text class="t"><tspan class="h" x="567" y="258.5">DEPARTMENT OF HOUSING</tspan><tspan class="h" x="567" y="261">AND COMMUNITY</tspan><tspan class="h" x="567" y="263.5">DEVELOPMENT</tspan><tspan x="567" y="266.5">Susan Riccardi</tspan><tspan x="567" y="269">Acting Director</tspan><tspan class="h" x="567" y="272.5">CA HOUSING FINANCE</tspan><tspan class="h" x="567" y="275">AGENCY</tspan><tspan x="567" y="278">Tia Boatman Patterson</tspan><tspan x="567" y="280.5">Executive Director</tspan></text></g>
<g id="bz5"><rect class="b" x="550" y="287" width="34" height="17"/><text class="t"><tspan class="h" x="567" y="291">DEPARTMENT OF</tspan><tspan class="h" x="567" y="293.5">BUSINESS OVERSIGHT</tspan><tspan x="567" y="298.5">Jan Lynn Owen</tspan><tspan x="567" y="301">Commissioner</tspan></text></g>
<g id="bz6"><rect class="b" x="550" y="308" width="34" height="16"/><text class="t"><tspan class="h" x="567" y="312">SEISMIC SAFETY</tspan><tspan class="h" x="567" y="314.5">COMMISSION</tspan><tspan x="567" y="318.5">Richard McCarthy</tspan><tspan x="567" y="321">Director</tspan></text></g>
<g id="bz7"><rect class="b" x="550" y="328" width="34" height="18"/><text class="t"><tspan class="h" x="567" y="331.5">ALCOHOLIC BEVERAGE</tspan><tspan class="h" x="567" y="334">CONTROL APPEALS</tspan><tspan class="h" x="567" y="336.5">BOARD</tspan><tspan x="567" y="340.5">Linda A. Mathes</tspan><tspan x="567" y="343">Executive Officer</tspan></text></g>
<g id="bz8"><rect class="b" x="550" y="350" width="34" height="17"/><text class="t"><tspan class="h" x="567" y="354">CA HORSE RACING</tspan><tspan class="h" x="567" y="356.5">BOARD</tspan><tspan x="567" y="361.5">Rick Baedeker</tspan><tspan x="567" y="364">Executive Director</tspan></text></g>

<polygon class="star" points="185,192 187.94,198.95 195.46,199.6 189.76,204.55 191.47,211.9 185,208 178.53,211.9 180.24,204.55 174.54,199.6 182.06,198.95"/>
<rect class="bg" x="0" y="373" width="671" height="5"/>
</svg>
